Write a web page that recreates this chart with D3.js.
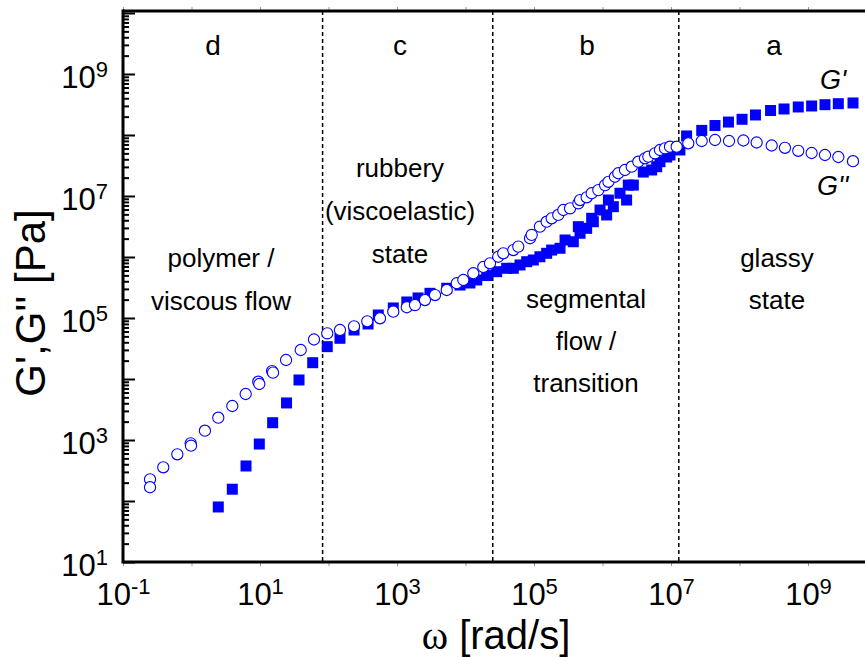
<!DOCTYPE html>
<html>
<head>
<meta charset="utf-8">
<script src="https://cdn.jsdelivr.net/npm/d3@7"></script>
<style>
  html, body { margin: 0; padding: 0; background: #fff; }
  svg { display: block; font-family: 'Liberation Sans', Arial, sans-serif; }
</style>
</head>
<body>
<svg id="chart" width="865" height="657"></svg>
<script>
// G' (storage modulus), filled squares
const gp_omega = [2.46, 3.94, 6.25, 9.77, 15.3, 24.4, 37.1, 58.8, 95.9, 147,
  236, 378, 533, 883, 1390, 2030, 3030, 5320, 8320, 11600,
  14600, 20400, 28500, 39900, 49900, 62500, 78200, 97700, 1.22e5, 1.53e5,
  1.81e5, 2.40e5, 2.84e5, 3.75e5, 4.44e5, 4.70e5, 5.87e5, 6.95e5, 7.35e5, 9.20e5,
  1.15e6, 1.22e6, 1.44e6, 1.80e6, 2.25e6, 2.38e6, 2.82e6, 3.94e6, 5.22e6, 6.18e6,
  6.90e6, 8.65e6, 9.66e6, 1.35e7, 1.69e7, 2.81e7, 4.39e7, 6.90e7, 1.09e8, 1.71e8,
  2.84e8, 4.47e8, 7.21e8, 1.13e9, 1.77e9, 2.77e9, 4.54e9];
const gp_modulus = [79.8, 156, 375, 859, 1920, 4050, 9640, 18500, 33900, 46500,
  63600, 79800, 1.12e5, 1.46e5, 1.83e5, 2.13e5, 2.54e5, 3.07e5, 3.47e5, 3.75e5,
  4.20e5, 4.97e5, 5.74e5, 6.53e5, 6.53e5, 7.40e5, 8.38e5, 8.93e5, 1.01e6, 1.15e6,
  1.30e6, 1.39e6, 1.90e6, 1.78e6, 3.14e6, 2.45e6, 2.95e6, 4.31e6, 3.79e6, 5.89e6,
  4.89e6, 8.59e6, 6.68e6, 1.11e7, 8.59e6, 1.51e7, 1.51e7, 2.47e7, 2.67e7, 3.02e7,
  3.65e7, 4.36e7, 4.70e7, 5.68e7, 9.64e7, 1.19e8, 1.43e8, 1.63e8, 1.81e8, 2.13e8,
  2.52e8, 2.67e8, 2.88e8, 2.99e8, 3.14e8, 3.26e8, 3.35e8];

// G'' (loss modulus), open circles
const gpp_omega = [0.248, 0.248, 0.387, 0.621, 0.973, 0.984, 1.57, 2.46, 3.94, 6.18,
  9.44, 9.77, 15.0, 15.5, 24.0, 39.3, 61.4, 95.9, 147, 236,
  368, 565, 883, 1390, 1830, 2560, 3590, 5320, 7450, 9290,
  13000, 18200, 22800, 30100, 35600, 49900, 59000, 87500, 92500, 1.22e5,
  1.53e5, 1.81e5, 2.26e5, 2.68e5, 3.36e5, 4.44e5, 4.70e5, 5.87e5, 6.95e5, 8.69e5,
  1.09e6, 1.22e6, 1.52e6, 1.70e6, 2.13e6, 2.67e6, 3.33e6, 4.17e6, 4.67e6, 5.83e6,
  6.90e6, 8.17e6, 9.66e6, 1.21e7, 1.79e7, 2.81e7, 4.39e7, 7.03e7, 1.14e8, 1.78e8,
  2.95e8, 4.61e8, 7.21e8, 1.13e9, 1.77e9, 2.77e9, 4.54e9];
const gpp_modulus = [227, 168, 357, 583, 883, 807, 1420, 2320, 3610, 5680,
  9030, 8280, 13500, 12700, 20500, 29900, 44400, 56100, 63600, 73100,
  88300, 98900, 1.27e5, 1.50e5, 1.63e5, 1.97e5, 2.38e5, 2.88e5, 3.71e5, 4.20e5,
  5.41e5, 6.85e5, 7.89e5, 1.01e6, 1.15e6, 1.30e6, 1.48e6, 2.03e6, 2.30e6, 3.14e6,
  3.79e6, 4.31e6, 4.89e6, 5.89e6, 6.28e6, 7.59e6, 8.59e6, 9.52e6, 1.11e7, 1.25e7,
  1.51e7, 1.71e7, 2.07e7, 2.36e7, 2.67e7, 3.02e7, 3.65e7, 4.15e7, 4.41e7, 5.01e7,
  5.68e7, 6.05e7, 6.43e7, 6.43e7, 7.31e7, 7.98e7, 8.28e7, 7.98e7, 8.13e7, 7.54e7,
  6.73e7, 6.17e7, 5.51e7, 5.07e7, 4.70e7, 4.36e7, 3.72e7];

// region boundaries (dashed lines) and labelled decades
const region_bounds = [82, 2.5e4, 1.3e7];
const x_label_exps = [-1, 1, 3, 5, 7, 9];
const y_label_exps = [1, 3, 5, 7, 9];

// text annotations: [text, x px, baseline px, size]
const notes = [
  ['d', 213, 55, 28], ['c', 400, 55, 28], ['b', 587, 55, 28], ['a', 774, 55, 28],
  ['rubbery', 400, 177, 26], ['(viscoelastic)', 400, 220, 26], ['state', 400, 263, 26],
  ['polymer /', 221, 267, 26], ['viscous flow', 221, 310, 26],
  ['segmental', 586, 308, 26], ['flow /', 586, 350, 26], ['transition', 586, 392, 26],
  ['glassy', 777, 267, 26], ['state', 777, 309, 26],
];

const blue = '#0000ff';
const plot_left = 123;
const plot_top = 11;
const plot_bottom = 562;
const plot_right = 865;

const svg = d3.select('#chart');

const x = d3.scaleLog().domain([0.1, 1e10]).range([plot_left, plot_left + 11 * 68.5]);
const y = d3.scaleLog().domain([10, 1e10]).range([plot_bottom, plot_bottom - 9 * 61]);

const decades = (lo, hi) => d3.range(lo, hi + 1).map(e => Math.pow(10, e));

svg.append('defs').append('clipPath')
  .attr('id', 'plot_clip')
  .append('rect')
  .attr('x', plot_left).attr('y', plot_top)
  .attr('width', plot_right - plot_left).attr('height', plot_bottom - plot_top);

// y ticks, pointing inward
const y_major = decades(1, 10);
const y_minor = y.ticks(100).filter(v => Math.abs(Math.log10(v) - Math.round(Math.log10(v))) > 1e-6);

svg.append('g')
  .attr('transform', `translate(${plot_left},0)`)
  .call(d3.axisRight(y).tickValues(y_major).tickSize(12).tickFormat(''))
  .call(g => g.select('.domain').remove())
  .call(g => g.selectAll('line').attr('stroke', '#000').attr('stroke-width', 2));

svg.append('g')
  .attr('transform', `translate(${plot_left},0)`)
  .call(d3.axisRight(y).tickValues(y_minor).tickSize(6).tickFormat(''))
  .call(g => g.select('.domain').remove())
  .call(g => g.selectAll('line').attr('stroke', '#000').attr('stroke-width', 2));

// small grey decade ticks on bottom and top
svg.append('g')
  .attr('transform', `translate(0,${plot_bottom})`)
  .call(d3.axisBottom(x).tickValues(decades(-1, 10)).tickSize(4).tickFormat(''))
  .call(g => g.select('.domain').remove())
  .call(g => g.selectAll('line').attr('stroke', '#999'));

svg.append('g')
  .attr('transform', `translate(0,${plot_top})`)
  .call(d3.axisTop(x).tickValues(decades(-1, 10)).tickSize(4).tickFormat(''))
  .call(g => g.select('.domain').remove())
  .call(g => g.selectAll('line').attr('stroke', '#999'));

function powerLabel(sel, exp) {
  sel.append('tspan').text('10');
  sel.append('tspan').attr('dy', -11).attr('font-size', 22).text(exp);
}

// x tick labels
svg.append('g')
  .attr('transform', `translate(0,${plot_bottom})`)
  .call(d3.axisBottom(x).tickValues(x_label_exps.map(e => Math.pow(10, e))).tickSize(0).tickFormat(''))
  .call(g => g.select('.domain').remove())
  .call(g => g.selectAll('.tick text')
    .attr('y', 43).attr('dy', 0)
    .attr('font-size', 31).attr('fill', '#000')
    .attr('font-family', "'Liberation Sans', Arial, sans-serif")
    .each(function (d) { powerLabel(d3.select(this), Math.round(Math.log10(d))); }));

// y tick labels
svg.append('g')
  .attr('transform', `translate(${plot_left},0)`)
  .call(d3.axisLeft(y).tickValues(y_label_exps.map(e => Math.pow(10, e))).tickSize(0).tickFormat(''))
  .call(g => g.select('.domain').remove())
  .call(g => g.selectAll('.tick text')
    .attr('x', -15).attr('dy', 13)
    .attr('font-size', 31).attr('fill', '#000')
    .attr('font-family', "'Liberation Sans', Arial, sans-serif")
    .each(function (d) { powerLabel(d3.select(this), Math.round(Math.log10(d))); }));

// region dividers
svg.append('g')
  .selectAll('line')
  .data(region_bounds)
  .join('line')
  .attr('x1', d => x(d)).attr('x2', d => x(d))
  .attr('y1', plot_top).attr('y2', plot_bottom)
  .attr('stroke', '#000')
  .attr('stroke-width', 1.5)
  .attr('stroke-dasharray', '4,3');

// data markers
const plot = svg.append('g').attr('clip-path', 'url(#plot_clip)');
const gp = gp_omega.map((w, i) => [w, gp_modulus[i]]);
const gpp = gpp_omega.map((w, i) => [w, gpp_modulus[i]]);
const sq = 11;

plot.append('g')
  .selectAll('rect')
  .data(gp)
  .join('rect')
  .attr('x', d => x(d[0]) - sq / 2)
  .attr('y', d => y(d[1]) - sq / 2)
  .attr('width', sq)
  .attr('height', sq)
  .attr('fill', blue);

plot.append('g')
  .selectAll('circle')
  .data(gpp)
  .join('circle')
  .attr('cx', d => x(d[0]))
  .attr('cy', d => y(d[1]))
  .attr('r', 5.6)
  .attr('fill', '#fff')
  .attr('stroke', blue)
  .attr('stroke-width', 1.1);

// frame
const frame = svg.append('g').attr('stroke', '#000').attr('stroke-width', 3);
frame.append('line').attr('x1', plot_left).attr('x2', plot_left).attr('y1', plot_top - 1.5).attr('y2', plot_bottom + 1.5);
frame.append('line').attr('x1', plot_left).attr('x2', plot_right).attr('y1', plot_bottom).attr('y2', plot_bottom);
frame.append('line').attr('x1', plot_left).attr('x2', plot_right).attr('y1', plot_top).attr('y2', plot_top);

// annotations
svg.append('g')
  .selectAll('text')
  .data(notes)
  .join('text')
  .attr('x', d => d[1])
  .attr('y', d => d[2])
  .attr('font-size', d => d[3])
  .attr('text-anchor', 'middle')
  .text(d => d[0]);

svg.append('text')
  .attr('x', 820).attr('y', 89)
  .attr('font-size', 27).attr('font-style', 'italic')
  .text("G'");
svg.append('text')
  .attr('x', 817).attr('y', 195)
  .attr('font-size', 27).attr('font-style', 'italic')
  .text("G''");

// axis titles
svg.append('text')
  .attr('transform', 'translate(45,303) rotate(-90)')
  .attr('text-anchor', 'middle')
  .attr('font-size', 42)
  .text("G',G'' [Pa]");

const xt = svg.append('text')
  .attr('x', 496).attr('y', 649)
  .attr('text-anchor', 'middle')
  .attr('font-size', 40);
xt.append('tspan').attr('font-family', "'Liberation Serif', 'Times New Roman', serif").text('ω');
xt.append('tspan').text(' [rad/s]');
</script>
</body>
</html>
